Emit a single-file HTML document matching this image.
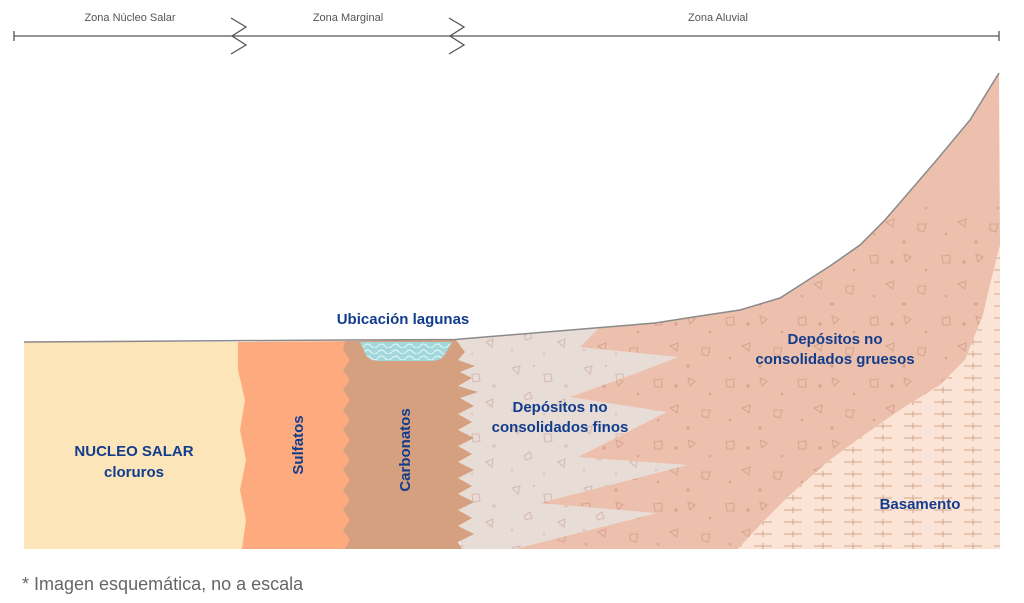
<!DOCTYPE html>
<html><head><meta charset="utf-8"><style>
html,body{margin:0;padding:0;background:#fff;}
svg{display:block;}
text{font-family:"Liberation Sans",sans-serif;}
</style></head><body>
<svg width="1024" height="603" viewBox="0 0 1024 603" xmlns="http://www.w3.org/2000/svg">
<defs>
<pattern id="fine" width="72" height="60" patternUnits="userSpaceOnUse">
 <g fill="none" stroke="#d6bcb2" stroke-width="1.1">
  <path d="M8 8 l8 -2 l-2 8 z"/><path d="M40 14 l7 0 l1 7 l-7 1 z"/><path d="M20 36 l6 -4 l2 6 l-6 2 z"/><path d="M54 42 l7 -3 l-1 8 z"/>
 </g>
 <g fill="#dcc6bc"><circle cx="30" cy="6" r="1.3"/><circle cx="62" cy="26" r="1.8"/><circle cx="8" cy="50" r="1.3"/><circle cx="40" cy="54" r="1.2"/></g>
</pattern>
<pattern id="coarse" width="72" height="62" patternUnits="userSpaceOnUse">
 <g fill="none" stroke="#d8a592" stroke-width="1.1">
  <path d="M6 8 l8 -1 l0 8 l-7 0 z"/><path d="M40 6 l7 3 l-5 5 z"/><path d="M22 36 l8 -3 l-1 8 z"/><path d="M54 38 l8 0 l-2 8 l-6 -2 z"/>
 </g>
 <g fill="#d8a592"><circle cx="28" cy="14" r="1.8"/><circle cx="62" cy="22" r="1.3"/><circle cx="10" cy="48" r="1.3"/><circle cx="40" cy="56" r="1.8"/></g>
</pattern>
<pattern id="base" width="30" height="12" patternUnits="userSpaceOnUse">
 <g stroke="#d3a88f" stroke-width="1.1">
  <line x1="4" y1="6" x2="22" y2="6"/><line x1="13" y1="3" x2="13" y2="9"/>
 </g>
</pattern>
<pattern id="water" width="14" height="6" patternUnits="userSpaceOnUse">
 <path d="M0 4 q3.5 -4 7 0 t7 0" fill="none" stroke="#d9f3f3" stroke-width="1.2"/>
</pattern>
<clipPath id="below"><rect x="0" y="205" width="1024" height="400"/></clipPath>
</defs>

<!-- zone bar -->
<g stroke="#555" stroke-width="1.3" fill="none">
 <line x1="14" y1="36" x2="999" y2="36"/>
 <line x1="14" y1="31" x2="14" y2="41"/>
 <line x1="999" y1="31" x2="999" y2="41"/>
 <path d="M231 18 L246 27 L232 36 L246 45 L231 54"/>
 <path d="M449 18 L464 27 L450 36 L464 45 L449 54"/>
</g>
<g font-size="11" fill="#555" text-anchor="middle">
 <text x="130" y="21">Zona Núcleo Salar</text>
 <text x="348" y="21">Zona Marginal</text>
 <text x="718" y="21">Zona Aluvial</text>
</g>

<rect x="24" y="342" width="222" height="207" fill="#fce5b9"/>
<path d="M238 342 L350 341 L350 549 L242 549 L246 520 L240 490 L246 460 L240 430 L245 400 L238 370 Z" fill="#fdab7e"/>
<path d="M450 340 L655 323 L700 318 L700 549 L460 549 Z" fill="#e8dcd6"/>
<path d="M450 340 L655 323 L700 318 L700 549 L460 549 Z" fill="url(#fine)"/>
<path d="M345 341 L456 340 L465 352 L458 360 L475 366 L460 372 L472 378 L458 386 L478 392 L460 398 L474 406 L458 414 L472 422 L458 430 L474 438 L458 446 L472 454 L458 462 L474 470 L458 478 L472 486 L458 494 L474 502 L458 510 L472 518 L458 526 L474 534 L458 542 L462 549 L345 549 L350 540 L343 530 L350 520 L343 510 L350 500 L343 490 L350 480 L343 470 L350 460 L343 450 L350 440 L343 430 L350 420 L343 410 L350 400 L343 390 L350 380 L343 370 L350 360 L343 350 Z" fill="#d4a07f"/>
<path d="M360 342 L452 342 L444 356 Q440 361 430 361 L378 361 Q370 361 366 355 Z" fill="#a2d8db"/>
<path d="M360 342 L452 342 L444 356 Q440 361 430 361 L378 361 Q370 361 366 355 Z" fill="url(#water)"/>
<path d="M600 327 L655 323 L700 316 L740 310 L780 298 L805 282 L830 266 L860 245 L885 220 L935 162 L970 120 L999 73 L1000 245 L990 285 L983 315 L965 360 L940 385 L900 410 L860 438 L830 460 L790 495 L760 525 L738 549 L515 549 L657 513 L540 503 L688 465 L578 457 L667 412 L570 397 L637 373 L678 357 L580 347 Z" fill="#ecc0ac"/>
<path d="M600 327 L655 323 L700 316 L740 310 L780 298 L805 282 L830 266 L860 245 L885 220 L935 162 L970 120 L999 73 L1000 245 L990 285 L983 315 L965 360 L940 385 L900 410 L860 438 L830 460 L790 495 L760 525 L738 549 L515 549 L657 513 L540 503 L688 465 L578 457 L667 412 L570 397 L637 373 L678 357 L580 347 Z" fill="url(#coarse)" clip-path="url(#below)"/>
<path d="M1000 245 L1000 549 L738 549 L760 525 L790 495 L830 460 L860 438 L900 410 L940 385 L965 360 L983 315 L990 285 Z" fill="#fbe3d5"/>
<path d="M1000 245 L1000 549 L738 549 L760 525 L790 495 L830 460 L860 438 L900 410 L940 385 L965 360 L983 315 L990 285 Z" fill="url(#base)"/>
<path d="M24 342 L345 340 L455 339.5 L655 323 L700 316 L740 310 L780 298 L805 282 L830 266 L860 245 L885 220 L935 162 L970 120 L999 73" fill="none" stroke="#8a8a8a" stroke-width="1.5"/>

<g fill="#123c8c" font-weight="bold" font-size="15" text-anchor="middle">
 <text x="403" y="324">Ubicación lagunas</text>
 <text x="134" y="456">NUCLEO SALAR</text>
 <text x="134" y="477">cloruros</text>
 <text x="298" y="445" transform="rotate(-90 298 445)" dy="5">Sulfatos</text>
 <text x="405" y="450" transform="rotate(-90 405 450)" dy="5">Carbonatos</text>
 <text x="560" y="412">Depósitos no</text>
 <text x="560" y="432">consolidados finos</text>
 <text x="835" y="344">Depósitos no</text>
 <text x="835" y="364">consolidados gruesos</text>
 <text x="920" y="509">Basamento</text>
</g>
<text x="22" y="590" font-size="18" fill="#666">* Imagen esquemática, no a escala</text>
</svg>
</body></html>
